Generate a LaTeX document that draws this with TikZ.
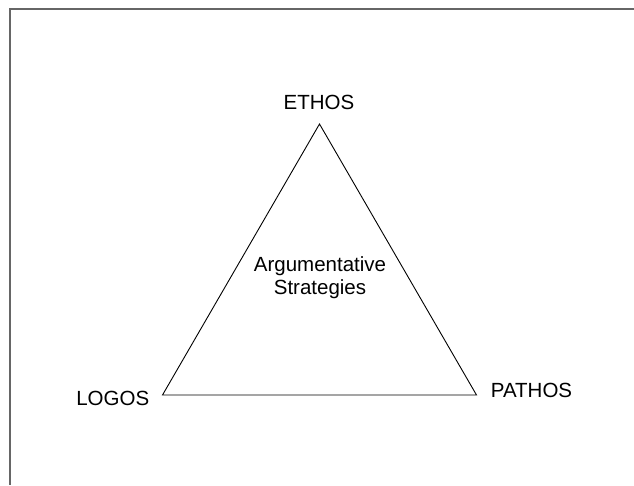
\documentclass[tikz,border=0pt]{standalone}
\usepackage{fontspec}
\setmainfont{Liberation Sans}
\begin{document}
\begin{tikzpicture}[x=1pt,y=-1pt,
  lbl/.style={anchor=base,inner sep=0pt,font=\fontsize{20.5}{23.6}\selectfont},
  frameline/.style={draw=black!60,line width=2pt},
  tri/.style={draw=black,line width=0.9pt,line join=miter}]
\useasboundingbox (0,0) rectangle (634,485);
\coordinate (tl) at (9.5,8.5);
\coordinate (tr) at (634,8.5);
\coordinate (bl) at (9.5,485);
\draw[frameline] (tr) -- (tl) -- (bl);
\coordinate (apex) at (319.5,124);
\coordinate (left) at (162.5,395);
\coordinate (right) at (476.5,395);
\draw[tri] (apex) -- (left) -- (right) -- cycle;
\node[lbl] (ethos) at (319,109.5) {ETHOS};
\node[lbl] (logos) at (112.8,405.5) {LOGOS};
\node[lbl] (pathos) at (531.5,397.5) {PATHOS};
\node[lbl] (arg) at (320,271) {Argumentative};
\node[lbl] (strat) at (320,294.5) {Strategies};
\end{tikzpicture}
\end{document}
